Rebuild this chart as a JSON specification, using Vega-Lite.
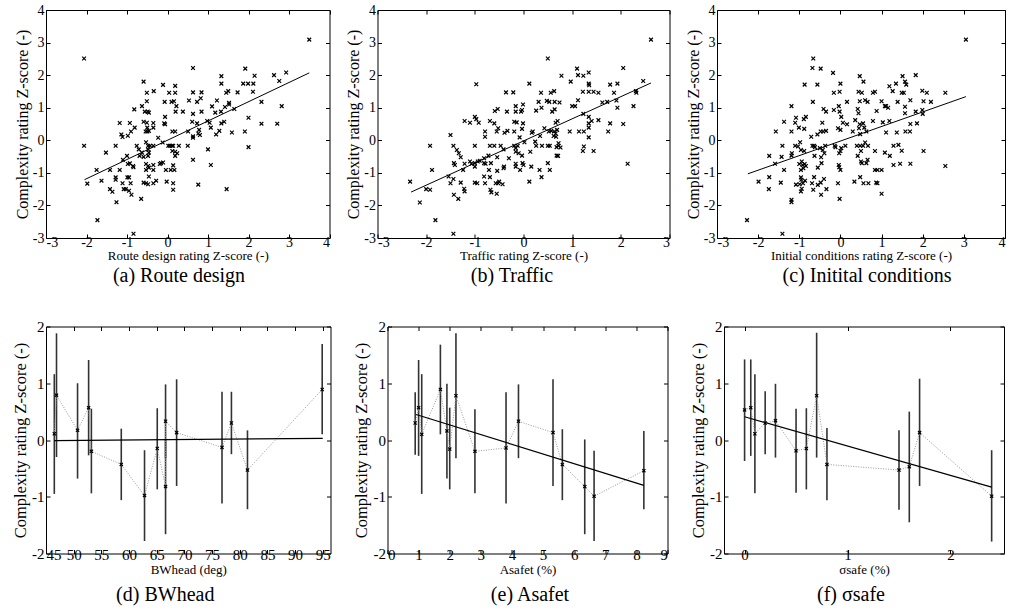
{
  "$schema": "https://vega.github.io/schema/vega-lite/v6.json",
  "padding": {"left": 11, "top": 2, "right": 0, "bottom": 0},
  "background": "white",
  "spacing": 31.5,
  "columns": 1,
  "datasets": {
    "a": [
      {"x":-2.06,"y":2.51},{"x":-2.06,"y":-0.17},{"x":-1.98,"y":-1.33},{"x":-1.75,"y":-0.91},{"x":-1.73,"y":-2.45},{"x":-1.63,"y":-1.24},{"x":-1.52,"y":-0.38},{"x":-1.42,"y":-0.91},{"x":-1.42,"y":-1.5},{"x":-1.36,"y":-1.58},{"x":-1.28,"y":-0.17},{"x":-1.28,"y":-1.14},{"x":-1.28,"y":-1.21},{"x":-1.26,"y":-1.9},{"x":-1.18,"y":0.53},{"x":-1.18,"y":-0.91},{"x":-1.14,"y":0.18},{"x":-1.11,"y":0.1},{"x":-1.1,"y":-0.6},{"x":-1.11,"y":-1.32},{"x":-1.08,"y":-1.5},{"x":-1.03,"y":-1.5},{"x":-1.0,"y":-0.48},{"x":-0.99,"y":-1.14},{"x":-0.98,"y":0.14},{"x":-0.98,"y":-0.73},{"x":-0.95,"y":-1.14},{"x":-0.95,"y":-1.55},{"x":-0.93,"y":0.53},{"x":-0.91,"y":-1.32},{"x":-0.93,"y":-0.71},{"x":-0.9,"y":0.27},{"x":-0.89,"y":-1.67},{"x":-0.85,"y":-0.79},{"x":-0.84,"y":-0.83},{"x":-0.84,"y":-2.87},{"x":-0.82,"y":0.95},{"x":-0.81,"y":0.39},{"x":-0.76,"y":-0.17},{"x":-0.71,"y":-0.28},{"x":-0.69,"y":-0.48},{"x":-0.65,"y":-1.8},{"x":-0.63,"y":1.05},{"x":-0.63,"y":-0.38},{"x":-0.59,"y":1.8},{"x":-0.59,"y":0.57},{"x":-0.59,"y":-0.51},{"x":-0.59,"y":-1.3},{"x":-0.56,"y":0.88},{"x":-0.54,"y":0.27},{"x":-0.53,"y":-0.06},{"x":-0.53,"y":-0.73},{"x":-0.53,"y":-0.91},{"x":-0.53,"y":-1.32},{"x":-0.51,"y":1.46},{"x":-0.51,"y":1.2},{"x":-0.51,"y":0.54},{"x":-0.49,"y":0.88},{"x":-0.5,"y":0.39},{"x":-0.5,"y":0.27},{"x":-0.48,"y":-0.17},{"x":-0.48,"y":-0.28},{"x":-0.48,"y":-0.48},{"x":-0.48,"y":-0.79},{"x":-0.48,"y":-1.35},{"x":-0.46,"y":0.85},{"x":-0.46,"y":0.29},{"x":-0.46,"y":-0.38},{"x":-0.46,"y":-0.84},{"x":-0.46,"y":-1.11},{"x":-0.43,"y":-0.17},{"x":-0.34,"y":1.51},{"x":-0.35,"y":0.53},{"x":-0.35,"y":0.39},{"x":-0.35,"y":-0.17},{"x":-0.35,"y":-0.76},{"x":-0.35,"y":-0.91},{"x":-0.35,"y":-1.32},{"x":-0.28,"y":-1.24},{"x":-0.23,"y":0.08},{"x":-0.19,"y":-0.73},{"x":-0.16,"y":-0.7},{"x":-0.12,"y":-0.07},{"x":-0.11,"y":1.7},{"x":-0.11,"y":-0.68},{"x":-0.08,"y":0.52},{"x":-0.07,"y":1.18},{"x":-0.06,"y":0.72},{"x":-0.06,"y":0.49},{"x":-0.04,"y":-0.91},{"x":-0.02,"y":-1.27},{"x":0.02,"y":-0.17},{"x":0.04,"y":1.46},{"x":0.06,"y":-0.17},{"x":0.08,"y":-0.91},{"x":0.11,"y":-0.17},{"x":0.12,"y":0.27},{"x":0.14,"y":-0.17},{"x":0.12,"y":-0.33},{"x":0.14,"y":-0.77},{"x":0.14,"y":-1.32},{"x":0.14,"y":-1.52},{"x":0.16,"y":1.2},{"x":0.17,"y":-0.91},{"x":0.19,"y":1.67},{"x":0.19,"y":1.46},{"x":0.19,"y":0.27},{"x":0.19,"y":-0.35},{"x":0.19,"y":-0.48},{"x":0.2,"y":0.88},{"x":0.22,"y":1.05},{"x":0.24,"y":-0.4},{"x":0.28,"y":-0.17},{"x":0.38,"y":0.88},{"x":0.1,"y":1.18},{"x":0.5,"y":-0.17},{"x":0.53,"y":1.22},{"x":0.51,"y":0.27},{"x":0.61,"y":0.57},{"x":0.63,"y":2.22},{"x":0.63,"y":1.47},{"x":0.63,"y":0.81},{"x":0.63,"y":0.12},{"x":0.63,"y":0.08},{"x":0.63,"y":-0.6},{"x":0.73,"y":1.18},{"x":0.73,"y":0.52},{"x":0.76,"y":0.21},{"x":0.76,"y":-1.36},{"x":0.78,"y":0.32},{"x":0.8,"y":0.16},{"x":0.82,"y":1.29},{"x":0.84,"y":1.47},{"x":0.84,"y":0.88},{"x":0.98,"y":0.59},{"x":1.0,"y":-0.28},{"x":1.04,"y":0.54},{"x":1.07,"y":0.39},{"x":1.07,"y":-0.76},{"x":1.1,"y":1.04},{"x":1.18,"y":0.85},{"x":1.2,"y":0.18},{"x":1.22,"y":1.22},{"x":1.28,"y":0.29},{"x":1.32,"y":0.88},{"x":1.33,"y":1.97},{"x":1.33,"y":1.74},{"x":1.33,"y":0.52},{"x":1.4,"y":0.57},{"x":1.42,"y":1.02},{"x":1.45,"y":1.46},{"x":1.46,"y":-1.5},{"x":1.5,"y":1.51},{"x":1.52,"y":1.15},{"x":1.52,"y":1.1},{"x":1.59,"y":0.24},{"x":1.65,"y":0.96},{"x":1.73,"y":1.47},{"x":1.91,"y":0.27},{"x":1.92,"y":2.2},{"x":1.87,"y":1.74},{"x":1.99,"y":1.74},{"x":2.0,"y":0.69},{"x":2.0,"y":-0.21},{"x":2.11,"y":1.49},{"x":2.12,"y":1.74},{"x":2.15,"y":1.98},{"x":2.32,"y":1.18},{"x":2.32,"y":0.51},{"x":2.63,"y":2.0},{"x":2.71,"y":0.51},{"x":2.76,"y":1.82},{"x":2.82,"y":1.05},{"x":2.93,"y":2.08},{"x":3.5,"y":3.09}
    ],
    "aLine": [{"x":-2.05,"y":-1.21},{"x":3.5,"y":2.07}],
    "b": [
      {"x":-2.33,"y":-1.27},{"x":-2.13,"y":-1.91},{"x":-2.0,"y":-1.5},{"x":-1.92,"y":-0.17},{"x":-1.92,"y":-1.52},{"x":-1.88,"y":-0.91},{"x":-1.81,"y":-2.45},{"x":-1.5,"y":0.16},{"x":-1.54,"y":-1.11},{"x":-1.5,"y":-1.32},{"x":-1.44,"y":-0.17},{"x":-1.44,"y":-1.19},{"x":-1.43,"y":-0.7},{"x":-1.41,"y":-0.76},{"x":-1.43,"y":-1.67},{"x":-1.44,"y":-2.87},{"x":-1.37,"y":-0.3},{"x":-1.34,"y":-1.8},{"x":-1.33,"y":-0.4},{"x":-1.29,"y":-0.52},{"x":-1.29,"y":-1.3},{"x":-1.24,"y":-0.91},{"x":-1.22,"y":-1.49},{"x":-1.21,"y":-1.57},{"x":-1.21,"y":0.59},{"x":-1.21,"y":-0.72},{"x":-1.1,"y":0.54},{"x":-1.1,"y":-0.65},{"x":-1.07,"y":-0.72},{"x":-1.0,"y":0.72},{"x":-1.0,"y":-0.17},{"x":-1.0,"y":-0.7},{"x":-1.0,"y":-0.81},{"x":-1.0,"y":-1.3},{"x":-0.97,"y":1.72},{"x":-0.97,"y":0.65},{"x":-0.95,"y":-1.32},{"x":-0.94,"y":-0.65},{"x":-0.92,"y":0.54},{"x":-0.9,"y":-0.63},{"x":-0.79,"y":0.27},{"x":-0.79,"y":0.11},{"x":-0.81,"y":-0.55},{"x":-0.81,"y":-0.7},{"x":-0.81,"y":-1.11},{"x":-0.79,"y":-1.32},{"x":-0.78,"y":-0.72},{"x":-0.72,"y":-0.47},{"x":-0.71,"y":-0.91},{"x":-0.69,"y":0.59},{"x":-0.69,"y":-0.17},{"x":-0.69,"y":-1.13},{"x":-0.68,"y":-1.52},{"x":-0.66,"y":-1.6},{"x":-0.67,"y":-0.7},{"x":-0.6,"y":0.52},{"x":-0.6,"y":-0.17},{"x":-0.59,"y":0.9},{"x":-0.57,"y":-1.32},{"x":-0.55,"y":0.27},{"x":-0.55,"y":-1.64},{"x":-0.54,"y":-0.52},{"x":-0.54,"y":-0.94},{"x":-0.53,"y":0.96},{"x":-0.52,"y":0.37},{"x":-0.52,"y":-1.32},{"x":-0.5,"y":-1.27},{"x":-0.47,"y":-0.17},{"x":-0.43,"y":-1.35},{"x":-0.41,"y":-0.28},{"x":-0.4,"y":-0.81},{"x":-0.41,"y":-0.86},{"x":-0.39,"y":0.23},{"x":-0.36,"y":1.47},{"x":-0.34,"y":0.88},{"x":-0.33,"y":0.29},{"x":-0.3,"y":-0.55},{"x":-0.21,"y":1.47},{"x":-0.19,"y":0.27},{"x":-0.19,"y":-0.17},{"x":-0.19,"y":0.57},{"x":-0.16,"y":1.05},{"x":-0.16,"y":0.88},{"x":-0.16,"y":-0.24},{"x":-0.16,"y":-0.35},{"x":-0.16,"y":-0.72},{"x":-0.16,"y":-0.81},{"x":-0.14,"y":0.55},{"x":-0.12,"y":-0.17},{"x":-0.1,"y":-0.4},{"x":-0.08,"y":0.09},{"x":-0.07,"y":-0.91},{"x":-0.05,"y":0.88},{"x":-0.03,"y":0.93},{"x":-0.03,"y":0.35},{"x":-0.03,"y":-0.47},{"x":-0.02,"y":-0.7},{"x":-0.01,"y":0.52},{"x":-0.01,"y":1.1},{"x":0.0,"y":-0.76},{"x":0.02,"y":-0.06},{"x":0.12,"y":1.74},{"x":0.12,"y":-1.27},{"x":0.14,"y":-0.35},{"x":0.16,"y":-0.81},{"x":0.17,"y":0.23},{"x":0.19,"y":0.27},{"x":0.24,"y":-0.04},{"x":0.26,"y":-0.17},{"x":0.26,"y":0.91},{"x":0.31,"y":1.18},{"x":0.33,"y":-0.91},{"x":0.34,"y":0.13},{"x":0.37,"y":1.0},{"x":0.36,"y":1.46},{"x":0.37,"y":-1.13},{"x":0.38,"y":-0.17},{"x":0.43,"y":0.37},{"x":0.48,"y":1.21},{"x":0.5,"y":-0.7},{"x":0.5,"y":2.51},{"x":0.5,"y":-0.17},{"x":0.52,"y":0.27},{"x":0.53,"y":1.18},{"x":0.54,"y":-0.17},{"x":0.54,"y":-0.91},{"x":0.56,"y":1.46},{"x":0.57,"y":0.29},{"x":0.59,"y":0.88},{"x":0.62,"y":0.13},{"x":0.63,"y":1.51},{"x":0.63,"y":0.27},{"x":0.64,"y":1.18},{"x":0.64,"y":0.95},{"x":0.66,"y":0.54},{"x":0.66,"y":0.21},{"x":0.67,"y":0.11},{"x":0.68,"y":-0.21},{"x":0.68,"y":-0.47},{"x":0.69,"y":0.32},{"x":0.7,"y":0.59},{"x":0.71,"y":-0.48},{"x":0.72,"y":-0.09},{"x":0.72,"y":-0.17},{"x":0.74,"y":1.16},{"x":0.76,"y":-0.22},{"x":0.78,"y":1.98},{"x":0.95,"y":0.27},{"x":0.97,"y":1.8},{"x":1.0,"y":1.05},{"x":1.06,"y":1.05},{"x":1.1,"y":2.2},{"x":1.12,"y":2.0},{"x":1.12,"y":1.23},{"x":1.14,"y":0.27},{"x":1.22,"y":1.49},{"x":1.22,"y":-0.33},{"x":1.23,"y":1.98},{"x":1.23,"y":0.81},{"x":1.24,"y":0.27},{"x":1.24,"y":-0.19},{"x":1.34,"y":0.72},{"x":1.34,"y":1.49},{"x":1.34,"y":1.74},{"x":1.34,"y":2.08},{"x":1.35,"y":1.69},{"x":1.34,"y":0.52},{"x":1.34,"y":0.39},{"x":1.34,"y":0.09},{"x":1.4,"y":0.59},{"x":1.44,"y":1.49},{"x":1.44,"y":-0.33},{"x":1.54,"y":1.46},{"x":1.54,"y":0.62},{"x":1.62,"y":1.16},{"x":1.72,"y":1.18},{"x":1.74,"y":0.27},{"x":1.78,"y":1.71},{"x":1.78,"y":0.52},{"x":1.86,"y":1.46},{"x":1.91,"y":1.22},{"x":1.93,"y":1.74},{"x":1.93,"y":1.0},{"x":2.05,"y":2.22},{"x":2.05,"y":0.5},{"x":2.14,"y":-0.72},{"x":2.26,"y":1.05},{"x":2.31,"y":1.51},{"x":2.32,"y":1.46},{"x":2.46,"y":1.82},{"x":2.62,"y":3.09}
    ],
    "bLine": [{"x":-2.31,"y":-1.59},{"x":2.62,"y":1.76}],
    "c": [
      {"x":-2.27,"y":-2.45},{"x":-1.99,"y":-1.27},{"x":-1.73,"y":-0.48},{"x":-1.73,"y":-1.13},{"x":-1.74,"y":-1.5},{"x":-1.59,"y":-0.72},{"x":-1.57,"y":0.27},{"x":-1.45,"y":-1.3},{"x":-1.43,"y":-0.51},{"x":-1.41,"y":-0.17},{"x":-1.41,"y":-2.87},{"x":-1.37,"y":0.57},{"x":-1.37,"y":-0.91},{"x":-1.19,"y":1.05},{"x":-1.19,"y":-0.47},{"x":-1.18,"y":-0.4},{"x":-1.19,"y":-1.83},{"x":-1.19,"y":-1.9},{"x":-1.19,"y":0.27},{"x":-1.1,"y":0.54},{"x":-1.1,"y":-0.17},{"x":-1.08,"y":0.69},{"x":-1.08,"y":-1.36},{"x":-1.03,"y":-0.19},{"x":-1.01,"y":0.39},{"x":-1.0,"y":-0.73},{"x":-0.99,"y":-1.35},{"x":-0.98,"y":-0.06},{"x":-0.96,"y":-0.3},{"x":-0.96,"y":-0.91},{"x":-0.96,"y":-1.14},{"x":-0.96,"y":-1.57},{"x":-0.95,"y":-1.21},{"x":-0.94,"y":-0.65},{"x":-0.94,"y":-1.49},{"x":-0.92,"y":-0.76},{"x":-0.91,"y":-1.32},{"x":-0.9,"y":-0.86},{"x":-0.89,"y":0.65},{"x":-0.88,"y":0.35},{"x":-0.88,"y":-0.33},{"x":-0.87,"y":1.71},{"x":-0.87,"y":-0.73},{"x":-0.84,"y":0.72},{"x":-0.84,"y":-0.79},{"x":-0.86,"y":-1.24},{"x":-0.71,"y":0.11},{"x":-0.69,"y":-1.32},{"x":-0.68,"y":-0.17},{"x":-0.68,"y":2.22},{"x":-0.67,"y":1.18},{"x":-0.66,"y":2.51},{"x":-0.66,"y":-1.52},{"x":-0.64,"y":-0.17},{"x":-0.64,"y":-1.13},{"x":-0.63,"y":-0.48},{"x":-0.62,"y":-0.21},{"x":-0.56,"y":0.18},{"x":-0.56,"y":1.71},{"x":-0.55,"y":-0.84},{"x":-0.55,"y":-1.37},{"x":-0.5,"y":-0.24},{"x":-0.48,"y":2.2},{"x":-0.48,"y":0.27},{"x":-0.48,"y":-1.3},{"x":-0.47,"y":-1.67},{"x":-0.47,"y":-0.52},{"x":-0.46,"y":-0.7},{"x":-0.44,"y":0.54},{"x":-0.43,"y":-0.3},{"x":-0.42,"y":0.27},{"x":-0.41,"y":0.96},{"x":-0.4,"y":-1.19},{"x":-0.39,"y":-0.4},{"x":-0.37,"y":-0.17},{"x":-0.35,"y":0.88},{"x":-0.35,"y":0.29},{"x":-0.34,"y":-1.5},{"x":-0.18,"y":2.07},{"x":-0.16,"y":1.46},{"x":-0.16,"y":0.93},{"x":-0.14,"y":-0.17},{"x":-0.12,"y":-0.21},{"x":-0.06,"y":-1.32},{"x":-0.06,"y":0.37},{"x":-0.04,"y":1.05},{"x":-0.04,"y":-0.76},{"x":-0.03,"y":-0.4},{"x":-0.03,"y":-0.83},{"x":-0.02,"y":0.88},{"x":-0.02,"y":-1.8},{"x":0.0,"y":1.74},{"x":-0.02,"y":1.49},{"x":0.0,"y":0.32},{"x":0.0,"y":-0.33},{"x":0.0,"y":-0.91},{"x":0.02,"y":-0.24},{"x":0.02,"y":0.72},{"x":0.06,"y":0.54},{"x":0.12,"y":-0.17},{"x":0.16,"y":1.18},{"x":0.16,"y":0.49},{"x":0.3,"y":0.27},{"x":0.34,"y":-1.27},{"x":0.36,"y":0.62},{"x":0.4,"y":-0.17},{"x":0.42,"y":0.96},{"x":0.42,"y":-0.48},{"x":0.44,"y":1.49},{"x":0.44,"y":0.83},{"x":0.45,"y":0.37},{"x":0.47,"y":1.97},{"x":0.47,"y":1.2},{"x":0.47,"y":0.49},{"x":0.48,"y":-0.17},{"x":0.48,"y":0.19},{"x":0.48,"y":-1.13},{"x":0.5,"y":-0.33},{"x":0.5,"y":-0.65},{"x":0.52,"y":1.46},{"x":0.52,"y":-0.7},{"x":0.55,"y":-0.17},{"x":0.55,"y":0.52},{"x":0.56,"y":1.8},{"x":0.56,"y":-1.32},{"x":0.58,"y":0.39},{"x":0.6,"y":-0.07},{"x":0.6,"y":1.23},{"x":0.63,"y":0.27},{"x":0.63,"y":-0.7},{"x":0.66,"y":1.18},{"x":0.66,"y":-0.6},{"x":0.67,"y":-0.17},{"x":0.68,"y":-1.32},{"x":0.79,"y":1.46},{"x":0.79,"y":0.59},{"x":0.84,"y":1.49},{"x":0.84,"y":-0.33},{"x":0.84,"y":-0.91},{"x":0.87,"y":-1.3},{"x":0.88,"y":0.9},{"x":0.9,"y":-0.91},{"x":0.9,"y":-1.32},{"x":1.0,"y":-0.91},{"x":1.0,"y":-1.64},{"x":1.0,"y":1.2},{"x":1.03,"y":0.55},{"x":1.08,"y":1.05},{"x":1.08,"y":-0.38},{"x":1.11,"y":1.05},{"x":1.11,"y":0.24},{"x":1.16,"y":1.0},{"x":1.19,"y":1.66},{"x":1.19,"y":0.59},{"x":1.2,"y":-0.48},{"x":1.27,"y":1.51},{"x":1.29,"y":-0.76},{"x":1.29,"y":-0.17},{"x":1.35,"y":1.74},{"x":1.37,"y":0.24},{"x":1.39,"y":1.18},{"x":1.41,"y":-0.14},{"x":1.45,"y":-0.72},{"x":1.49,"y":1.46},{"x":1.49,"y":-0.32},{"x":1.51,"y":1.97},{"x":1.54,"y":1.46},{"x":1.57,"y":1.8},{"x":1.57,"y":0.83},{"x":1.57,"y":1.03},{"x":1.58,"y":0.27},{"x":1.6,"y":1.71},{"x":1.69,"y":0.27},{"x":1.7,"y":1.23},{"x":1.7,"y":-0.72},{"x":1.7,"y":0.5},{"x":1.83,"y":2.0},{"x":1.83,"y":0.88},{"x":1.86,"y":0.52},{"x":1.99,"y":1.52},{"x":1.99,"y":0.93},{"x":2.0,"y":0.81},{"x":2.02,"y":1.2},{"x":2.02,"y":-0.33},{"x":2.1,"y":1.46},{"x":2.2,"y":1.18},{"x":2.55,"y":1.46},{"x":2.55,"y":-0.79},{"x":3.05,"y":3.09}
    ],
    "cLine": [{"x":-2.25,"y":-1.03},{"x":3.05,"y":1.34}],
    "d": [
      {"x":46.5,"m":0.11,"lo":-0.95,"hi":1.16,"o":1},
      {"x":46.9,"m":0.79,"lo":-0.3,"hi":1.88,"o":2},
      {"x":50.7,"m":0.17,"lo":-0.68,"hi":1.0,"o":3},
      {"x":52.7,"m":0.57,"lo":-0.27,"hi":1.41,"o":4},
      {"x":53.2,"m":-0.2,"lo":-0.94,"hi":0.55,"o":5},
      {"x":58.6,"m":-0.43,"lo":-1.06,"hi":0.2,"o":6},
      {"x":62.8,"m":-0.98,"lo":-1.78,"hi":-0.18,"o":7},
      {"x":65.1,"m":-0.15,"lo":-0.87,"hi":0.56,"o":8},
      {"x":66.6,"m":-0.82,"lo":-1.66,"hi":0.02,"o":9},
      {"x":66.6,"m":0.33,"lo":-0.32,"hi":0.98,"o":10},
      {"x":68.6,"m":0.13,"lo":-0.81,"hi":1.07,"o":11},
      {"x":76.8,"m":-0.13,"lo":-1.12,"hi":0.85,"o":12},
      {"x":78.5,"m":0.3,"lo":-0.25,"hi":0.85,"o":13},
      {"x":81.4,"m":-0.53,"lo":-1.22,"hi":0.17,"o":14},
      {"x":94.9,"m":0.89,"lo":0.1,"hi":1.69,"o":15}
    ],
    "dLine": [{"x":46.5,"y":-0.01},{"x":95,"y":0.03}],
    "e": [
      {"x":0.89,"m":0.3,"lo":-0.26,"hi":0.84,"o":1},
      {"x":1.0,"m":0.57,"lo":-0.28,"hi":1.41,"o":2},
      {"x":1.1,"m":0.1,"lo":-0.95,"hi":1.16,"o":3},
      {"x":1.7,"m":0.89,"lo":0.1,"hi":1.68,"o":4},
      {"x":1.91,"m":0.16,"lo":-0.68,"hi":0.99,"o":5},
      {"x":2.0,"m":-0.16,"lo":-0.87,"hi":0.57,"o":6},
      {"x":2.2,"m":0.78,"lo":-0.32,"hi":1.88,"o":7},
      {"x":2.81,"m":-0.2,"lo":-0.94,"hi":0.54,"o":8},
      {"x":3.81,"m":-0.14,"lo":-1.12,"hi":0.84,"o":9},
      {"x":4.21,"m":0.33,"lo":-0.32,"hi":0.98,"o":10},
      {"x":5.32,"m":0.13,"lo":-0.81,"hi":1.07,"o":11},
      {"x":5.62,"m":-0.43,"lo":-1.06,"hi":0.19,"o":12},
      {"x":6.34,"m":-0.82,"lo":-1.66,"hi":0.01,"o":13},
      {"x":6.64,"m":-0.99,"lo":-1.78,"hi":-0.19,"o":14},
      {"x":8.24,"m":-0.54,"lo":-1.22,"hi":0.16,"o":15}
    ],
    "eLine": [{"x":0.92,"y":0.45},{"x":8.24,"y":-0.8}],
    "f": [
      {"x":0.0,"m":0.53,"lo":-0.37,"hi":1.42,"o":1},
      {"x":0.06,"m":0.57,"lo":-0.28,"hi":1.42,"o":2},
      {"x":0.1,"m":0.11,"lo":-0.94,"hi":1.16,"o":3},
      {"x":0.2,"m":0.3,"lo":-0.25,"hi":0.86,"o":4},
      {"x":0.3,"m":0.34,"lo":-0.31,"hi":0.99,"o":5},
      {"x":0.5,"m":-0.19,"lo":-0.93,"hi":0.55,"o":6},
      {"x":0.6,"m":-0.15,"lo":-0.87,"hi":0.56,"o":7},
      {"x":0.7,"m":0.78,"lo":-0.31,"hi":1.89,"o":8},
      {"x":0.8,"m":-0.43,"lo":-1.06,"hi":0.21,"o":9},
      {"x":1.5,"m":-0.53,"lo":-1.23,"hi":0.17,"o":10},
      {"x":1.6,"m":-0.47,"lo":-1.45,"hi":0.5,"o":11},
      {"x":1.7,"m":0.13,"lo":-0.81,"hi":1.08,"o":12},
      {"x":2.4,"m":-0.99,"lo":-1.79,"hi":-0.18,"o":13}
    ],
    "fLine": [{"x":0.0,"y":0.41},{"x":2.4,"y":-0.83}]
  },
  "concat": [
    {
      "bounds": "flush",
      "spacing": 47.5,
      "hconcat": [
        {
          "width": 283.5, "height": 228,
          "title": {"text": "(a) Route design", "orient": "bottom", "dx": -8.75, "offset": 4},
          "layer": [
            {"data": {"name": "a"}, "mark": {"type": "point", "shape": "M-1,-1L1,1M-1,1L1,-1", "size": 14, "filled": false, "color": "#000", "strokeWidth": 1.2, "opacity": 1},
             "encoding": {
               "x": {"field": "x", "type": "quantitative", "scale": {"domain": [-3, 4], "nice": false, "zero": false}, "axis": {"orient": "bottom", "values": [-3,-2,-1,0,1,2,3,4], "title": "Route design rating Z-score (-)", "titleFontSize": 13}},
               "y": {"field": "y", "type": "quantitative", "scale": {"domain": [-3, 4], "nice": false, "zero": false}, "axis": {"orient": "left", "values": [-3,-2,-1,0,1,2,3,4], "title": "Complexity rating Z-score (-)", "titleFontSize": 16}}
             }},
            {"data": {"name": "aLine"}, "mark": {"type": "line", "color": "#000", "strokeWidth": 1},
             "encoding": {
               "x": {"field": "x", "type": "quantitative", "scale": {"domain": [-3, 4], "nice": false, "zero": false}, "axis": {"orient": "top", "labels": false, "title": null, "values": [-3,-2,-1,0,1,2,3,4]}},
               "y": {"field": "y", "type": "quantitative", "scale": {"domain": [-3, 4], "nice": false, "zero": false}, "axis": {"orient": "right", "labels": false, "title": null, "values": [-3,-2,-1,0,1,2,3,4]}}
             }}
          ],
          "resolve": {"axis": {"x": "independent", "y": "independent"}}
        },
        {
          "width": 292, "height": 228,
          "title": {"text": "(b) Traffic", "orient": "bottom", "dx": -11.5, "offset": 4},
          "layer": [
            {"data": {"name": "b"}, "mark": {"type": "point", "shape": "M-1,-1L1,1M-1,1L1,-1", "size": 14, "filled": false, "color": "#000", "strokeWidth": 1.2, "opacity": 1},
             "encoding": {
               "x": {"field": "x", "type": "quantitative", "scale": {"domain": [-3, 3], "nice": false, "zero": false}, "axis": {"orient": "bottom", "values": [-3,-2,-1,0,1,2,3], "title": "Traffic rating Z-score (-)", "titleFontSize": 13}},
               "y": {"field": "y", "type": "quantitative", "scale": {"domain": [-3, 4], "nice": false, "zero": false}, "axis": {"orient": "left", "values": [-3,-2,-1,0,1,2,3,4], "title": "Complexity rating Z-score (-)", "titleFontSize": 16}}
             }},
            {"data": {"name": "bLine"}, "mark": {"type": "line", "color": "#000", "strokeWidth": 1},
             "encoding": {
               "x": {"field": "x", "type": "quantitative", "scale": {"domain": [-3, 3], "nice": false, "zero": false}, "axis": {"orient": "top", "labels": false, "title": null, "values": [-3,-2,-1,0,1,2,3]}},
               "y": {"field": "y", "type": "quantitative", "scale": {"domain": [-3, 4], "nice": false, "zero": false}, "axis": {"orient": "right", "labels": false, "title": null, "values": [-3,-2,-1,0,1,2,3,4]}}
             }}
          ],
          "resolve": {"axis": {"x": "independent", "y": "independent"}}
        },
        {
          "width": 288, "height": 228,
          "title": {"text": "(c) Initital conditions", "orient": "bottom", "dx": 6, "offset": 4},
          "layer": [
            {"data": {"name": "c"}, "mark": {"type": "point", "shape": "M-1,-1L1,1M-1,1L1,-1", "size": 14, "filled": false, "color": "#000", "strokeWidth": 1.2, "opacity": 1},
             "encoding": {
               "x": {"field": "x", "type": "quantitative", "scale": {"domain": [-3, 4], "nice": false, "zero": false}, "axis": {"orient": "bottom", "values": [-3,-2,-1,0,1,2,3,4], "title": "Initial conditions rating Z-score (-)", "titleFontSize": 13}},
               "y": {"field": "y", "type": "quantitative", "scale": {"domain": [-3, 4], "nice": false, "zero": false}, "axis": {"orient": "left", "values": [-3,-2,-1,0,1,2,3,4], "title": "Complexity rating Z-score (-)", "titleFontSize": 16}}
             }},
            {"data": {"name": "cLine"}, "mark": {"type": "line", "color": "#000", "strokeWidth": 1},
             "encoding": {
               "x": {"field": "x", "type": "quantitative", "scale": {"domain": [-3, 4], "nice": false, "zero": false}, "axis": {"orient": "top", "labels": false, "title": null, "values": [-3,-2,-1,0,1,2,3,4]}},
               "y": {"field": "y", "type": "quantitative", "scale": {"domain": [-3, 4], "nice": false, "zero": false}, "axis": {"orient": "right", "labels": false, "title": null, "values": [-3,-2,-1,0,1,2,3,4]}}
             }}
          ],
          "resolve": {"axis": {"x": "independent", "y": "independent"}}
        }
      ]
    },
    {
      "bounds": "flush",
      "spacing": 56.5,
      "hconcat": [
        {
          "width": 284.5, "height": 227,
          "title": {"text": "(d) BWhead", "orient": "bottom", "dx": -23, "offset": 9},
          "layer": [
            {"data": {"name": "d"}, "mark": {"type": "rule", "color": "#333", "strokeWidth": 1.6},
             "encoding": {
               "x": {"field": "x", "type": "quantitative", "scale": {"domain": [45, 96.4], "nice": false, "zero": false}, "axis": {"orient": "bottom", "values": [45,50,55,60,65,70,75,80,85,90,95], "title": "BWhead (deg)", "titleFontSize": 13, "labelFontSize": 15, "labelPadding": -2, "titlePadding": 0.5}},
               "y": {"field": "lo", "type": "quantitative", "scale": {"domain": [-2, 2], "nice": false, "zero": false}, "axis": {"orient": "left", "values": [-2,-1,0,1,2], "title": "Complexity rating Z-score (-)", "titleFontSize": 16.5, "labelFontSize": 15, "titlePadding": 3.5}},
               "y2": {"field": "hi"}
             }},
            {"data": {"name": "d"}, "mark": {"type": "line", "color": "#999", "strokeWidth": 1, "strokeDash": [1, 1.5]},
             "encoding": {
               "x": {"field": "x", "type": "quantitative", "scale": {"domain": [45, 96.4], "nice": false, "zero": false}, "axis": null},
               "y": {"field": "m", "type": "quantitative", "scale": {"domain": [-2, 2], "nice": false, "zero": false}, "axis": null},
               "order": {"field": "o", "type": "quantitative"}
             }},
            {"data": {"name": "dLine"}, "mark": {"type": "line", "color": "#000", "strokeWidth": 1.2},
             "encoding": {
               "x": {"field": "x", "type": "quantitative", "scale": {"domain": [45, 96.4], "nice": false, "zero": false}, "axis": {"orient": "top", "labels": false, "title": null, "values": [45,50,55,60,65,70,75,80,85,90,95]}},
               "y": {"field": "y", "type": "quantitative", "scale": {"domain": [-2, 2], "nice": false, "zero": false}, "axis": {"orient": "right", "labels": false, "title": null, "values": [-2,-1,0,1,2]}}
             }},
            {"data": {"name": "d"}, "mark": {"type": "point", "shape": "M-1,-1L1,1M-1,1L1,-1", "size": 10, "filled": false, "color": "#000", "strokeWidth": 1.2, "opacity": 1},
             "encoding": {
               "x": {"field": "x", "type": "quantitative", "scale": {"domain": [45, 96.4], "nice": false, "zero": false}, "axis": null},
               "y": {"field": "m", "type": "quantitative", "scale": {"domain": [-2, 2], "nice": false, "zero": false}, "axis": null}
             }}
          ],
          "resolve": {"axis": {"x": "independent", "y": "independent"}}
        },
        {
          "width": 280, "height": 227,
          "title": {"text": "(e) Asafet", "orient": "bottom", "dx": 2.5, "offset": 9},
          "layer": [
            {"data": {"name": "e"}, "mark": {"type": "rule", "color": "#333", "strokeWidth": 1.6},
             "encoding": {
               "x": {"field": "x", "type": "quantitative", "scale": {"domain": [0, 9], "nice": false, "zero": false}, "axis": {"orient": "bottom", "values": [0,1,2,3,4,5,6,7,8,9], "title": "Asafet (%)", "titleFontSize": 13, "labelFontSize": 15, "labelPadding": -2, "titlePadding": 0.5}},
               "y": {"field": "lo", "type": "quantitative", "scale": {"domain": [-2, 2], "nice": false, "zero": false}, "axis": {"orient": "left", "values": [-2,-1,0,1,2], "title": "Complexity rating Z-score (-)", "titleFontSize": 16.5, "labelFontSize": 15, "titlePadding": 3.5}},
               "y2": {"field": "hi"}
             }},
            {"data": {"name": "e"}, "mark": {"type": "line", "color": "#999", "strokeWidth": 1, "strokeDash": [1, 1.5]},
             "encoding": {
               "x": {"field": "x", "type": "quantitative", "scale": {"domain": [0, 9], "nice": false, "zero": false}, "axis": null},
               "y": {"field": "m", "type": "quantitative", "scale": {"domain": [-2, 2], "nice": false, "zero": false}, "axis": null},
               "order": {"field": "o", "type": "quantitative"}
             }},
            {"data": {"name": "eLine"}, "mark": {"type": "line", "color": "#000", "strokeWidth": 1.2},
             "encoding": {
               "x": {"field": "x", "type": "quantitative", "scale": {"domain": [0, 9], "nice": false, "zero": false}, "axis": {"orient": "top", "labels": false, "title": null, "values": [0,1,2,3,4,5,6,7,8,9]}},
               "y": {"field": "y", "type": "quantitative", "scale": {"domain": [-2, 2], "nice": false, "zero": false}, "axis": {"orient": "right", "labels": false, "title": null, "values": [-2,-1,0,1,2]}}
             }},
            {"data": {"name": "e"}, "mark": {"type": "point", "shape": "M-1,-1L1,1M-1,1L1,-1", "size": 10, "filled": false, "color": "#000", "strokeWidth": 1.2, "opacity": 1},
             "encoding": {
               "x": {"field": "x", "type": "quantitative", "scale": {"domain": [0, 9], "nice": false, "zero": false}, "axis": null},
               "y": {"field": "m", "type": "quantitative", "scale": {"domain": [-2, 2], "nice": false, "zero": false}, "axis": null}
             }}
          ],
          "resolve": {"axis": {"x": "independent", "y": "independent"}}
        },
        {
          "width": 280, "height": 227,
          "title": {"text": "(f) σsafe", "orient": "bottom", "dx": -13, "offset": 9},
          "layer": [
            {"data": {"name": "f"}, "mark": {"type": "rule", "color": "#333", "strokeWidth": 1.6},
             "encoding": {
               "x": {"field": "x", "type": "quantitative", "scale": {"domain": [-0.2, 2.52], "nice": false, "zero": false}, "axis": {"orient": "bottom", "values": [0,1,2], "title": "σsafe (%)", "titleFontSize": 13, "labelFontSize": 15, "labelPadding": -2, "titlePadding": 0.5}},
               "y": {"field": "lo", "type": "quantitative", "scale": {"domain": [-2, 2], "nice": false, "zero": false}, "axis": {"orient": "left", "values": [-2,-1,0,1,2], "title": "Complexity rating Z-score (-)", "titleFontSize": 16.5, "labelFontSize": 15, "titlePadding": 3.5}},
               "y2": {"field": "hi"}
             }},
            {"data": {"name": "f"}, "mark": {"type": "line", "color": "#999", "strokeWidth": 1, "strokeDash": [1, 1.5]},
             "encoding": {
               "x": {"field": "x", "type": "quantitative", "scale": {"domain": [-0.2, 2.52], "nice": false, "zero": false}, "axis": null},
               "y": {"field": "m", "type": "quantitative", "scale": {"domain": [-2, 2], "nice": false, "zero": false}, "axis": null},
               "order": {"field": "o", "type": "quantitative"}
             }},
            {"data": {"name": "fLine"}, "mark": {"type": "line", "color": "#000", "strokeWidth": 1.2},
             "encoding": {
               "x": {"field": "x", "type": "quantitative", "scale": {"domain": [-0.2, 2.52], "nice": false, "zero": false}, "axis": {"orient": "top", "labels": false, "title": null, "values": [0,1,2]}},
               "y": {"field": "y", "type": "quantitative", "scale": {"domain": [-2, 2], "nice": false, "zero": false}, "axis": {"orient": "right", "labels": false, "title": null, "values": [-2,-1,0,1,2]}}
             }},
            {"data": {"name": "f"}, "mark": {"type": "point", "shape": "M-1,-1L1,1M-1,1L1,-1", "size": 10, "filled": false, "color": "#000", "strokeWidth": 1.2, "opacity": 1},
             "encoding": {
               "x": {"field": "x", "type": "quantitative", "scale": {"domain": [-0.2, 2.52], "nice": false, "zero": false}, "axis": null},
               "y": {"field": "m", "type": "quantitative", "scale": {"domain": [-2, 2], "nice": false, "zero": false}, "axis": null}
             }}
          ],
          "resolve": {"axis": {"x": "independent", "y": "independent"}}
        }
      ]
    }
  ],
  "config": {
    "font": "Liberation Serif",
    "view": {"stroke": "#000", "strokeWidth": 1},
    "axis": {
      "grid": false, "domain": false,
      "tickColor": "#000", "tickSize": -4, "tickWidth": 1,
      "labelColor": "#000", "labelFont": "Liberation Serif", "labelFontSize": 14,
      "labelExpr": "replace(datum.label, '\u2212', '-')",
      "titleFont": "Liberation Serif", "titleFontWeight": "normal", "titleColor": "#000"
    },
    "axisX": {"labelPadding": 1, "titlePadding": 0},
    "axisY": {"labelPadding": 6, "titlePadding": 2},
    "title": {"font": "Liberation Serif", "fontWeight": "normal", "fontSize": 20, "color": "#000"}
  }
}
